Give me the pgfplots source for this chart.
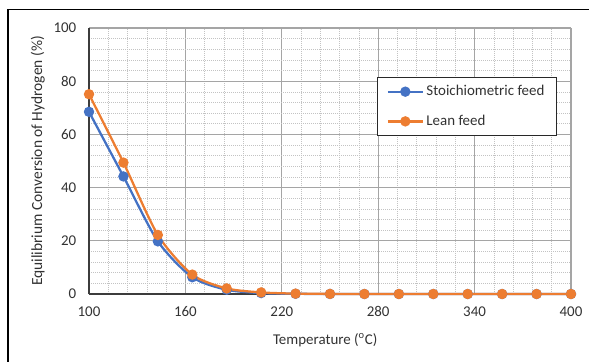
\documentclass[border=0pt]{standalone}
\usepackage{pgfplots}
\pgfplotsset{compat=1.18}
\usepackage{fontspec}
\setmainfont{Carlito}
\definecolor{xblue}{RGB}{68,114,196}
\definecolor{xorange}{RGB}{237,125,49}
\definecolor{txt}{RGB}{50,50,50}
\definecolor{majg}{RGB}{165,165,165}
\definecolor{ming}{RGB}{195,195,195}
\definecolor{axc}{RGB}{60,60,60}
\definecolor{legc}{RGB}{40,40,40}
\begin{document}
\begin{tikzpicture}
\path[use as bounding box] (0,0) rectangle (441.75pt,-271.5pt);
\draw[line width=1.3pt, black] (6pt,-7.1pt) -- (441.75pt,-7.1pt);
\draw[line width=1.3pt, black] (6pt,-7.1pt) -- (6pt,-271.5pt);
\begin{axis}[
  at={(66.75pt,-220.5pt)}, anchor=south west,
  scale only axis, width=361.5pt, height=199.5pt,
  xmin=100, xmax=400, ymin=0, ymax=100,
  xtick={100,160,220,280,340,400},
  ytick={0,20,40,60,80,100},
  minor x tick num=4, minor y tick num=4,
  major tick length=0pt, minor tick length=0pt,
  grid=both,
  major grid style={draw=majg, line width=0.8pt},
  minor grid style={draw=ming, line width=0.5pt, densely dotted},
  axis x line*=bottom, axis y line*=left,
  axis line style={draw=axc, line width=0.9pt},
  /pgf/number format/assume math mode=true,
  tick label style={font=\fontsize{11.2}{13}\selectfont, text=txt},
  xticklabel style={yshift=-6pt},
  yticklabel style={xshift=-6pt},
  label style={font=\fontsize{11.2}{13}\selectfont, text=txt},
  xlabel={Temperature (\textsuperscript{o}C)},
  ylabel={Equilibrium Conversion of Hydrogen (\%)},
  xlabel style={at={(axis description cs:0.49,-0.173)}, anchor=center},
  ylabel style={at={(axis description cs:-0.106,0.5)}, anchor=center, font=\fontsize{11.6}{13}\selectfont},
  legend style={at={(axis description cs:0.5975,0.816)}, anchor=north west,
    draw=legc, line width=0.8pt, fill=white,
    font=\fontsize{11.2}{13}\selectfont, text=txt,
    inner xsep=7pt, inner ysep=4pt, row sep=9pt},
  legend cell align=left,
  legend image code/.code={\draw[#1, mark repeat=2, mark phase=2] plot coordinates {(0pt,0pt) (13pt,0pt) (26pt,0pt)};},
  clip=false,
]
\addplot[xblue, line width=1.7pt, smooth, tension=0.45, mark=*, mark size=3pt, mark options={fill=xblue, draw=xblue}] coordinates {
(100,68.5) (121.43,44.2) (142.86,19.8) (164.29,6.3) (185.71,1.6) (207.14,0.35) (228.57,0.08) (250,0.02) (271.43,0) (292.86,0) (314.29,0) (335.71,0) (357.14,0) (378.57,0) (400,0)};
\addlegendentry{Stoichiometric feed}
\addplot[xorange, line width=1.7pt, smooth, tension=0.45, mark=*, mark size=3pt, mark options={fill=xorange, draw=xorange}] coordinates {
(100,75.1) (121.43,49.4) (142.86,22.2) (164.29,7.3) (185.71,2.1) (207.14,0.6) (228.57,0.15) (250,0.04) (271.43,0) (292.86,0) (314.29,0) (335.71,0) (357.14,0) (378.57,0) (400,0)};
\addlegendentry{Lean feed}
\end{axis}
\end{tikzpicture}
\end{document}
